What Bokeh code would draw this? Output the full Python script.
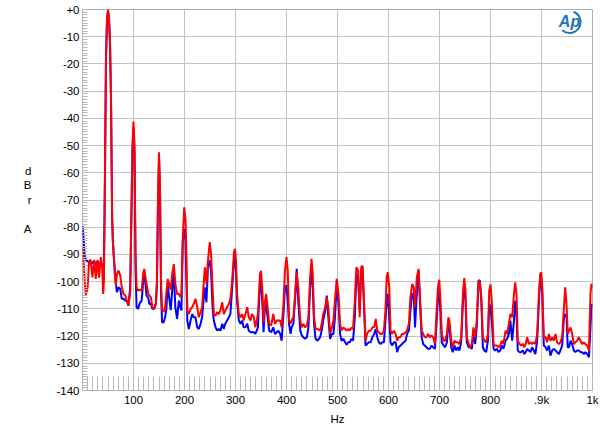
from bokeh.plotting import figure
from bokeh.models import Range1d, FixedTicker, Label, ColumnDataSource
from bokeh.embed import file_html
from bokeh.resources import INLINE

freq_hz = [
    0, 2, 4, 6.5, 10, 13, 16, 19.5, 23, 26, 29.5, 32.5, 36, 38.5, 40.5, 42, 44, 46, 48, 50, 52, 54, 56, 58, 59.5, 61,
    63.5, 65.5, 67.5, 70.5, 74, 77, 80.5, 84, 87, 90, 93.5, 95.5, 98, 100, 102, 104,
    106, 109, 112, 116, 119, 121, 125.5, 129, 131, 134, 137, 140.5, 144, 146, 148, 150, 152, 154,
    156, 159, 162, 164.5, 167, 170, 173, 176, 179, 182, 185.5, 189, 192, 194, 196.7, 199.5, 202, 204, 205.5,
    208.5, 212, 215, 218, 221.5, 225, 228, 231.5, 234.5, 238, 240, 243, 246, 249.5, 252, 255,
    257.5, 261, 264, 267, 270.5, 274, 277, 280, 283.5, 287, 290, 293.5, 297, 299, 301, 303,
    306.5, 310, 313, 316, 319.5, 323, 326, 329.5, 332.5, 336, 339, 344, 348, 350, 353, 355,
    358, 360, 363, 366, 370, 374, 377.5, 381, 384, 387.5, 390.5, 394, 397, 400, 402.5, 405,
    408, 410, 413.5, 417, 420, 423, 427, 430, 433, 436.5, 440, 443, 446, 449, 451.5, 454, 457,
    461, 466, 469, 472, 476, 479, 482, 485.5, 489, 492, 495, 498.5, 502, 505, 508,
    511.5, 515, 518, 521, 524, 527.5, 530.5, 534, 537, 540.5, 543.5, 546.5, 549, 551.5, 555, 558,
    561.5, 565, 568.5, 572, 575, 578, 581, 584.5, 587.5, 591, 594, 596.5, 598.5, 601.5, 604,
    607, 610.5, 614, 617, 620, 623.5, 626.5, 630, 633.5, 636.5, 640, 643, 646.5, 649.5,
    652, 655.5, 659, 661.5, 665, 668, 671, 674.5, 677.5, 681, 684.5, 687.5, 691, 694, 697, 699.5,
    702, 704.5, 708, 711, 714.5, 717.5, 719.5, 723, 726, 729.5, 732.5, 736, 739, 742.5, 746, 748.5,
    751, 753.5, 757, 760, 763.5, 766.5, 770, 773, 776.5, 779, 782, 785, 788, 791.5, 795, 797.5,
    800, 802.5, 806, 809, 812.5, 815.5, 819, 822, 825.5, 829.5, 832.5, 836, 839, 842.5, 846, 848.5,
    851, 853.5, 857, 860, 863.5, 866.5, 869, 872, 875, 878.5, 881.5, 885, 888, 891.5, 895, 897.5,
    899.5, 901.5, 904.5, 908, 911, 914.5, 917.5, 921, 924, 927.5, 930.5, 934, 937, 940.5, 944, 946.5,
    949, 951.5, 954, 957, 960, 963.5, 966.5, 970, 973, 976.5, 979.5, 983, 986, 989.5, 993, 996, 998, 1000,
]

red_dbr = [
    -87.5, -92, -99, -105, -102, -92.5, -92, -98.4, -92, -99, -92, -98.5, -91, -94.5, -104.5, -100, -62, -18, -4, 0, -3, -12, -33, -75, -85, -89,
    -97.8, -101.4, -97.2, -95.9, -97.8, -102.1, -104.5, -105.1, -107, -108.8, -104.5, -80, -50, -41.2, -50, -90,
    -102.1, -103.3, -103, -103.3, -97, -95.3, -100.8, -104.5, -105.1, -105.7, -109.4, -110, -108, -100, -70, -52.5, -65, -100,
    -110.6, -111, -109.4, -104, -99, -101, -103, -97, -93.5, -100.8, -104.5, -104.5, -105.7, -103.9, -83.5, -72.7, -77, -92.2, -110.6,
    -111.9, -110, -109.4, -108.2, -106.3, -109.4, -113.1, -111.2, -109.4, -99.6, -94.7, -100.8, -92.2, -85.5, -89.8, -102.1,
    -111.9, -112.5, -111.2, -111.9, -110.6, -107.6, -111.9, -110.6, -109.4, -108.2, -106.3, -99.6, -89.2, -87.9, -92.2, -104.5,
    -111.9, -113.1, -111.9, -114.3, -111.9, -109.4, -113.1, -114.3, -111.9, -113.1, -116.8, -111.9, -97.2, -96, -104.5, -115,
    -107, -104.5, -109.4, -115.5, -116.1, -111.9, -115.5, -114.3, -114.3, -114.3, -116.8, -108.2, -95.9, -91, -95.9, -114.3,
    -115.5, -114.3, -113.1, -104.5, -96.5, -102.1, -114.3, -116.8, -115.5, -116.8, -116.1, -113.1, -99.6, -91.6, -97.2, -113.1, -117.4,
    -117.4, -118, -115.5, -111.9, -109.4, -105.7, -109.4, -119.2, -116.8, -114.3, -107, -99, -104.5, -115.5, -118,
    -116.8, -117.4, -118, -117.4, -118, -116.8, -117.4, -107, -94.7, -95.9, -113.1, -94.7, -94.1, -104.5, -121.7, -119.2,
    -118, -118, -116.8, -116.8, -113.7, -118, -118.6, -119.2, -119.2, -118, -110.6, -98.4, -96.5, -102.1, -118,
    -119.2, -118, -119.2, -121.7, -120.4, -120.4, -119.2, -119.2, -118.6, -118, -115.5, -105.7, -100.8, -102.1,
    -109.4, -98.4, -95.3, -104.5, -118, -119.2, -120.4, -120.4, -119.2, -120.4, -119.8, -120.4, -122.9, -111.9, -102.1, -99.3,
    -107, -119.2, -121.7, -121.7, -119.2, -113.1, -114.3, -121.7, -124.1, -121.7, -122.3, -122.3, -122.9, -120.4, -104.5, -98.7,
    -103.3, -120.4, -122.9, -124.1, -122.9, -116.8, -120.4, -114.3, -100.3, -99.6, -105.7, -120.4, -121.7, -122.3, -119.2, -103.3,
    -101, -107, -122.9, -123.5, -123.5, -124.1, -123.5, -121.7, -122.9, -118, -119.2, -115.5, -111.9, -113.1, -104.5, -100.3,
    -104.5, -121.7, -122.9, -123.5, -122.9, -124.1, -122.9, -120.4, -122.9, -122.3, -122.9, -122.3, -122.9, -119.2, -104.5, -97.2,
    -96.5, -102.1, -120.4, -120.4, -122.3, -119.2, -121.7, -120.4, -121.7, -119.2, -122.3, -122.9, -122.3, -120.4, -109.4, -102.1,
    -108.2, -119.2, -118, -116.8, -119.2, -122.9, -122.3, -121.7, -120.4, -121.7, -122.9, -122.3, -122.9, -123.5, -125.3, -104.5, -100.8, -102.1,
]

blue_dbr = [
    -79.5, -84, -90, -92, -92.5, -93, -93.5, -93, -92.5, -94, -92.5, -93.5, -93.5, -93.5, -95, -94, -62, -19, -4, -0.5, -3.5, -13, -35, -76, -85, -90,
    -95.9, -100.8, -103.9, -102.1, -102.7, -106.3, -106.3, -107, -107, -108.8, -102.1, -80, -52, -43.4, -53, -96,
    -109.4, -110, -108, -107, -100, -95.9, -105.1, -106, -108.2, -108, -110, -110, -108, -100, -72, -54.5, -68, -104,
    -114.9, -115, -113, -110, -101, -106, -110.5, -103, -96, -109.4, -113.7, -107, -109.4, -110.6, -85, -80.6, -84.9, -102.1, -114.3,
    -117.4, -114.3, -111.9, -113.1, -113.1, -116.8, -117.4, -115.5, -113.1, -105.7, -102.1, -107.6, -94.7, -92.2, -95.9, -109.4,
    -114.3, -116.8, -118, -117.4, -118, -115.5, -117.4, -115.5, -114.3, -113.1, -111.9, -102.1, -92.2, -91, -96.5, -107,
    -114.3, -115.5, -114.3, -116.8, -116.8, -115.5, -118, -118.6, -118.6, -118.6, -119.2, -116.8, -100.2, -99.6, -109.4, -118.6,
    -108.2, -108.2, -113.1, -118, -118.6, -116.8, -119.2, -118.6, -118, -119.2, -121.7, -111.9, -102.1, -101.4, -107, -115.5,
    -119.2, -116.8, -115.5, -105.7, -95.3, -107, -118, -119.8, -120.4, -121, -120.4, -116.8, -103.3, -94.7, -102.1, -115.5, -121,
    -121.7, -120.4, -118, -114.3, -110.6, -105.1, -113.1, -121, -119.2, -119.2, -113.1, -100.8, -108.2, -119.2, -121.7,
    -121, -122.3, -123.2, -122.3, -122.3, -121, -121.7, -113.1, -97.2, -99.6, -110.6, -95.9, -94.7, -107, -123.5, -122.9,
    -122.3, -122.3, -120.4, -119.2, -117.4, -120.4, -122.3, -122.9, -122.3, -122.3, -114.3, -107, -104.5, -113.1, -122.3,
    -123.5, -122.3, -122.3, -125.9, -124.1, -123.5, -122.9, -122.3, -121.7, -119.2, -118, -110.6, -104.5, -104.5,
    -116.8, -104.5, -95.9, -107, -120.4, -122.9, -123.5, -124.1, -124.7, -124.7, -123.5, -124.1, -124.7, -116.1, -106, -103.3,
    -111.9, -122.3, -123.5, -124.1, -122.3, -114.3, -116.8, -124.1, -125.9, -123.5, -125.3, -124.1, -125.3, -122.3, -107, -100.8,
    -107, -122.3, -124.1, -124.1, -124.7, -119.2, -122.9, -116.8, -99.6, -99.6, -107, -124.1, -125.3, -125.9, -121.7, -108.2,
    -109.4, -114.3, -124.7, -125.3, -124.7, -125.9, -125.3, -123.5, -124.7, -121.7, -121, -119.2, -114.3, -121.7, -114.3, -107,
    -111.9, -125.3, -125.9, -125.9, -125.3, -126.6, -125.9, -124.7, -125.3, -125.9, -124.1, -125.3, -126.6, -121.7, -107, -98.4,
    -99, -104.5, -123.5, -124.1, -125.3, -123.5, -127.2, -125.3, -124.7, -125.3, -125.9, -126.6, -125.3, -123.5, -113.1, -111.9,
    -113.1, -124.1, -124.1, -121.7, -122.9, -125.3, -125.9, -125.3, -125.3, -125.9, -125.9, -126.6, -125.9, -126.6, -127.8, -116.8, -108.2, -109.4,
]

x_major = [100, 200, 300, 400, 500, 600, 700, 800, 900, 1000]
x_labels = ["100", "200", "300", "400", "500", "600", "700", "800", ".9k", "1k"]
y_major = [0, -10, -20, -30, -40, -50, -60, -70, -80, -90, -100, -110, -120, -130, -140]
y_labels = ["+0", "-10", "-20", "-30", "-40", "-50", "-60", "-70", "-80", "-90",
            "-100", "-110", "-120", "-130", "-140"]
y_title = "d\nB\nr\n\nA"

n = min(len(freq_hz), len(red_dbr), len(blue_dbr))
src = ColumnDataSource(dict(f=freq_hz[:n], red=red_dbr[:n], blue=blue_dbr[:n]))

FONT = "Liberation Sans"
GRID = "#c4c4c4"
FRAME_LEFT, FRAME_BOTTOM = 82, 390

p = figure(width=600, height=432, output_backend="svg", toolbar_location=None,
           x_range=Range1d(0, 1000), y_range=Range1d(-140, 0),
           min_border_left=82, min_border_right=8, min_border_top=9, min_border_bottom=42)
p.background_fill_color = "white"
p.border_fill_color = "white"
p.outline_line_color = "#b0b0b0"
p.outline_line_width = 1

p.xaxis.ticker = FixedTicker(ticks=x_major, minor_ticks=list(range(10, 1000, 10)))
p.yaxis.ticker = FixedTicker(ticks=y_major, minor_ticks=list(range(-140, 1, 1)))
p.xaxis.major_label_overrides = {t: s for t, s in zip(x_major, x_labels)}
p.yaxis.major_label_overrides = {t: s for t, s in zip(y_major, y_labels)}

for ax in (p.xaxis, p.yaxis):
    ax.axis_line_color = None
    ax.major_tick_out = 0
    ax.minor_tick_out = 0
    ax.major_tick_line_color = "#b8b8b8"
    ax.minor_tick_line_color = "#b8b8b8"
    ax.major_label_text_font = FONT
    ax.major_label_text_font_size = "11.5px"
    ax.major_label_text_color = "black"
    ax.major_label_standoff = 3
    ax.axis_label_text_font = FONT
    ax.axis_label_text_font_size = "11.5px"
    ax.axis_label_text_font_style = "normal"
    ax.axis_label_text_color = "black"

p.xaxis.major_tick_in = 14
p.xaxis.minor_tick_in = 14
p.yaxis.major_tick_in = 5
p.yaxis.minor_tick_in = 5

p.xaxis.axis_label = "Hz"
p.xaxis.axis_label_standoff = 4

p.yaxis.axis_label = y_title
p.yaxis.axis_label_orientation = "horizontal"
p.yaxis.axis_label_text_align = "center"
p.yaxis.axis_label_text_line_height = 1.22
p.yaxis.axis_label_standoff = 22

p.xgrid.grid_line_color = GRID
p.ygrid.grid_line_color = GRID
p.xgrid.grid_line_width = 1
p.ygrid.grid_line_width = 1

p.line("f", "blue", source=src, line_color="#0000ff", line_width=2)
p.line("f", "red", source=src, line_color="#ff0000", line_width=2)

# AP logo (decoration)
p.add_layout(Label(x=569 - FRAME_LEFT, y=FRAME_BOTTOM - 21, x_units="screen", y_units="screen",
                   text="Ap", text_font=FONT, text_font_size="16px", text_font_style="bold italic",
                   text_align="center", text_baseline="middle", text_color="#1b75bc"))
p.arc(x=[955], y=[-4.6], radius=11, radius_units="screen", start_angle=-2.3, end_angle=1.2,
      line_color="#1b75bc", line_width=2)

open("out.html", "w").write(file_html(p, INLINE))
